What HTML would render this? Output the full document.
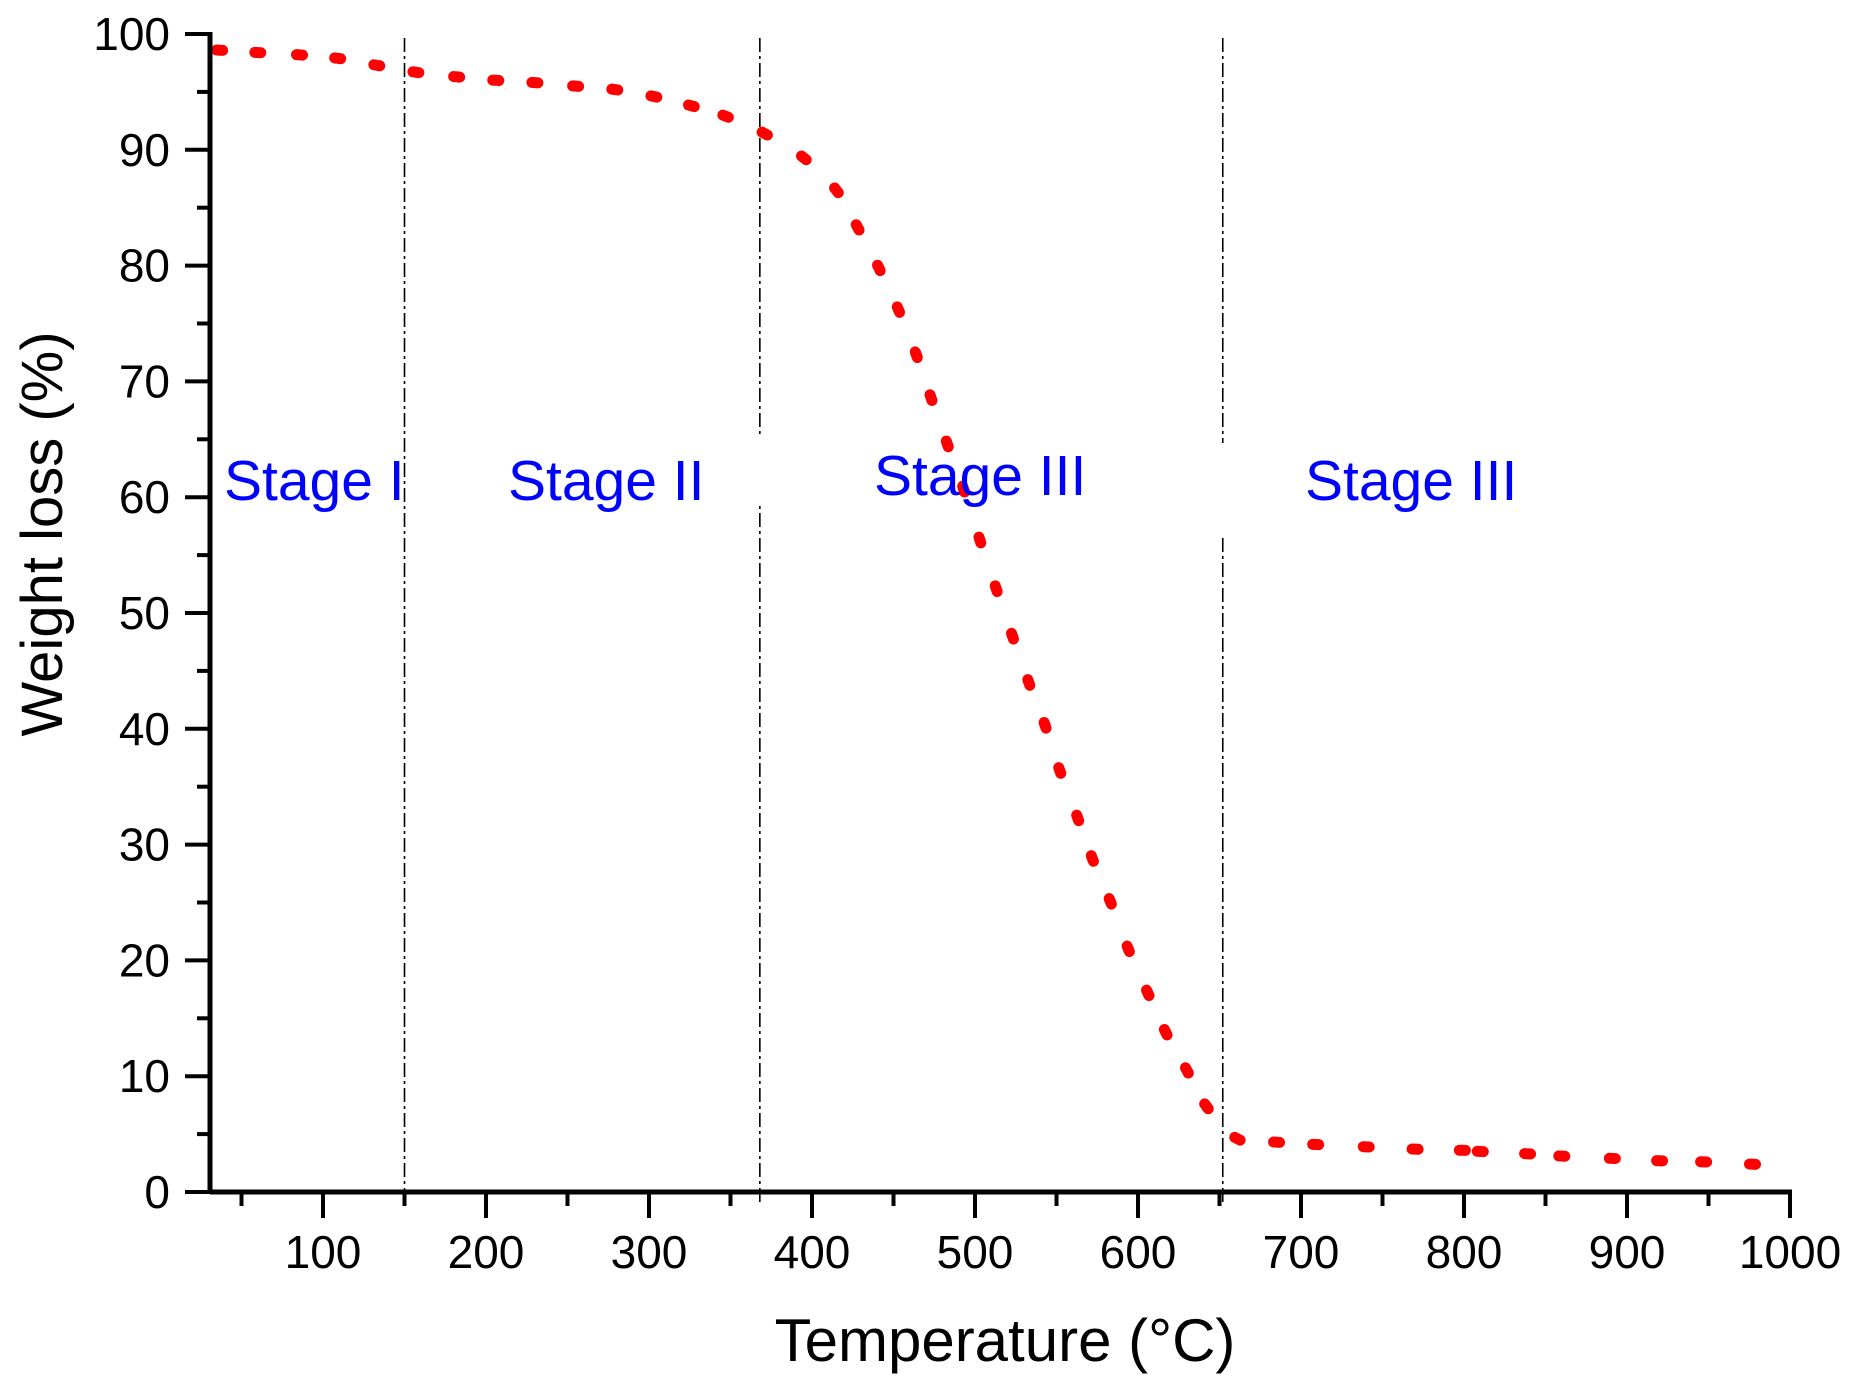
<!DOCTYPE html>
<html><head><meta charset="utf-8"><style>
html,body{margin:0;padding:0;background:#fff}
svg{display:block}
text{font-family:"Liberation Sans",Arial,sans-serif}
</style></head><body>
<svg id="chart" width="1866" height="1397" viewBox="0 0 1866 1397" xmlns="http://www.w3.org/2000/svg">
<g id="grid"></g>
<g id="series"></g>
<g id="labels"></g>
<g id="axes"></g>
<text x="1005" y="1361" font-size="60" text-anchor="middle">Temperature (°C)</text>
<text x="0" y="0" font-size="58" text-anchor="middle" transform="translate(62,534) rotate(-90)">Weight loss (%)</text>
</svg>
<script>
const temps = [36.6,60,85.6,109,133,157,182,206,230,255,279,303,326,347,371,395,415,428,441,453,464,473,483,493,503,513,523,533,543,552,563,572,583,594,606,617,630,642,661,685,709,740,770,799,810,839,860,891,920,947,977];
const weights = [98.6,98.4,98.2,97.9,97.3,96.7,96.3,96.0,95.8,95.5,95.2,94.6,93.8,92.9,91.4,89.3,86.5,83.3,79.8,76.2,72.3,68.6,64.6,60.7,56.3,52.1,48.0,44.0,40.3,36.4,32.3,28.8,25.1,21.0,17.2,13.8,10.5,7.4,4.6,4.3,4.1,3.9,3.7,3.6,3.5,3.3,3.1,2.9,2.7,2.6,2.4];
const xTicks = [100,200,300,400,500,600,700,800,900,1000];
const yTicks = [0,10,20,30,40,50,60,70,80,90,100];
const stageBounds = [150,368,652];
const stageNames = ["Stage I","Stage II","Stage III","Stage III"];
const stageTextX = [224,508,874,1305];

const NS="http://www.w3.org/2000/svg";
const PX0=210;
const sx = t => 160 + t*1.63;
const sy = w => 1192 - w*11.58;
function mk(tag, attrs, parent){const e=document.createElementNS(NS,tag);for(const k in attrs)e.setAttribute(k,attrs[k]);parent.appendChild(e);return e;}

const axes=document.getElementById('axes');
let e=mk('line',{x1:PX0,y1:sy(0),x2:sx(1000)+2,y2:sy(0),stroke:'#000','stroke-width':5},axes);


e=mk('line',{x1:PX0,y1:sy(0)+2,x2:PX0,y2:sy(100)-2,stroke:'#000','stroke-width':5},axes);


xTicks.forEach(t=>{
  const l=mk('line',{x1:sx(t),y1:sy(0),x2:sx(t),y2:sy(0)+26,stroke:'#000','stroke-width':4},axes);
  
  
  const m=mk('line',{x1:sx(t-50),y1:sy(0),x2:sx(t-50),y2:sy(0)+14,stroke:'#000','stroke-width':4},axes);
  
  
  const tx=mk('text',{x:sx(t),y:1268,'font-size':46,'text-anchor':'middle'},axes);
  tx.textContent=t;
  
  
});
yTicks.forEach(w=>{
  const l=mk('line',{x1:PX0,y1:sy(w),x2:PX0-25,y2:sy(w),stroke:'#000','stroke-width':4},axes);
  
  
  if(w<100){const m=mk('line',{x1:PX0,y1:sy(w+5),x2:PX0-13,y2:sy(w+5),stroke:'#000','stroke-width':4},axes);
  
  }
  const tx=mk('text',{x:170,y:sy(w)+16,'font-size':46,'text-anchor':'end'},axes);
  tx.textContent=w;
  
  
});

const grid=document.getElementById('grid');
stageBounds.forEach(t=>{
  const l=mk('line',{x1:sx(t),y1:38,x2:sx(t),y2:sy(0)+12,stroke:'#000','stroke-width':1.6,'stroke-dasharray':'14 4 3 4'},grid);
  
  
});

const series=document.getElementById('series');
for(let i=0;i<temps.length;i++){
  const x=sx(temps[i]), y=sy(weights[i]);
  const a=Math.max(0,i-1), b=Math.min(temps.length-1,i+1);
  let dx=sx(temps[b])-sx(temps[a]), dy=sy(weights[b])-sy(weights[a]);
  const len=Math.hypot(dx,dy)||1; dx/=len; dy/=len;
  const d=mk('line',{x1:x-dx*3,y1:y-dy*3,x2:x+dx*3,y2:y+dy*3,stroke:'#ff0000','stroke-width':11,'stroke-linecap':'round'},series);
  
  
}

const labels=document.getElementById('labels');
const baseY=[500,500,495,500];
stageNames.forEach((n,i)=>{
  const tx=mk('text',{x:stageTextX[i],y:baseY[i],'font-size':57,fill:'#0000ff'},labels);
  tx.textContent=n;
  
  
});
[[760,438,502],[1223,443,537]].forEach(g=>{
  const r=mk('rect',{x:g[0]-4,y:g[1],width:8,height:g[2]-g[1],fill:'#fff'},grid);
  
  
});
</script>
</body></html>
